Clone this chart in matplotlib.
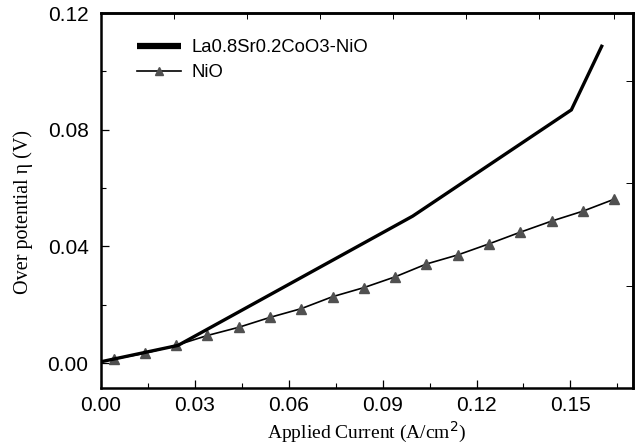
import numpy as np
import matplotlib.pyplot as plt
from matplotlib.ticker import MultipleLocator, FormatStrFormatter
from matplotlib.lines import Line2D

# data
lsco_current = [0.0, 0.0246, 0.0996, 0.1503, 0.160]
lsco_eta = [0.0005, 0.0061, 0.0504, 0.0868, 0.1086]

nio_current = [0.004, 0.014, 0.024, 0.034, 0.044, 0.054, 0.064, 0.074, 0.084,
               0.094, 0.104, 0.114, 0.124, 0.134, 0.144, 0.154, 0.164]
nio_eta = [0.0014, 0.0034, 0.0061, 0.0095, 0.0123, 0.0157, 0.0187, 0.0228, 0.0259,
           0.0296, 0.0340, 0.0371, 0.0409, 0.0449, 0.0487, 0.0521, 0.0562]

lsco_label = "La0.8Sr0.2CoO3-NiO"
nio_label = "NiO"

# odd secondary ticks on top/right of the original frame
top_ticks = [0.0233, 0.0466, 0.0700, 0.0932, 0.1166, 0.1400, 0.1640]
right_ticks = [0.0266, 0.0616, 0.0967]

sans = "Liberation Sans"
serif = "Liberation Serif"

fig = plt.figure(figsize=(6.37, 4.44), dpi=100)
ax = fig.add_axes([0.1586, 0.1261, 0.8351, 0.8446])

ax.plot(nio_current, nio_eta, color="black", lw=1.2, marker="^", markersize=6.5,
        markerfacecolor="#505050", markeredgecolor="#505050", zorder=2)
ax.plot(lsco_current, lsco_eta, color="black", lw=2.4, solid_joinstyle="miter", zorder=3)

ax.set_xlim(0, 0.17)
ax.set_ylim(-0.0085, 0.12)

ax.xaxis.set_major_locator(MultipleLocator(0.03))
ax.xaxis.set_minor_locator(MultipleLocator(0.015))
ax.yaxis.set_major_locator(MultipleLocator(0.04))
ax.yaxis.set_minor_locator(MultipleLocator(0.02))
ax.xaxis.set_major_formatter(FormatStrFormatter("%.2f"))
ax.yaxis.set_major_formatter(FormatStrFormatter("%.2f"))

ax.tick_params(which="both", direction="in", top=False, right=False)
ax.tick_params(which="major", length=6, width=0.9, labelsize=15)
ax.tick_params(axis="y", which="major", pad=9)
ax.tick_params(axis="x", which="major", pad=6)
ax.tick_params(which="minor", length=3.5, width=0.8)
for lbl in ax.get_xticklabels() + ax.get_yticklabels():
    lbl.set_fontfamily(sans)

for s in ax.spines.values():
    s.set_linewidth(1.8)

# top and right ticks (different spacing in the original)
secx = ax.secondary_xaxis("top")
secx.set_xticks(top_ticks)
secx.tick_params(direction="in", length=4, width=0.7, labelsize=0)
secx.set_xticklabels([])
secx.spines["top"].set_linewidth(1.8)
secy = ax.secondary_yaxis("right")
secy.set_yticks(right_ticks)
secy.tick_params(direction="in", length=5, width=0.7)
secy.set_yticklabels([])
secy.spines["right"].set_linewidth(1.8)

ax.set_xlabel("Applied Current (A/cm$^{2}$)", fontsize=14, family=serif, labelpad=3)
ax.set_ylabel("Over potential \u03b7 (V)", fontsize=14.5, family=serif)
ax.yaxis.set_label_coords(-0.128, 0.47)

handles = [
    Line2D([], [], color="black", lw=4.5, solid_capstyle="butt"),
    Line2D([], [], color="black", lw=1.2, marker="^", markersize=6,
           markerfacecolor="#505050", markeredgecolor="#505050"),
]
ax.legend(handles, [lsco_label, nio_label], loc="upper left",
          bbox_to_anchor=(0.068, 0.93), frameon=False, borderaxespad=0,
          borderpad=0, handlelength=2.35, handletextpad=0.6, labelspacing=0.42,
          prop={"family": sans, "size": 13.3})

fig.savefig("out.png", dpi=100)
